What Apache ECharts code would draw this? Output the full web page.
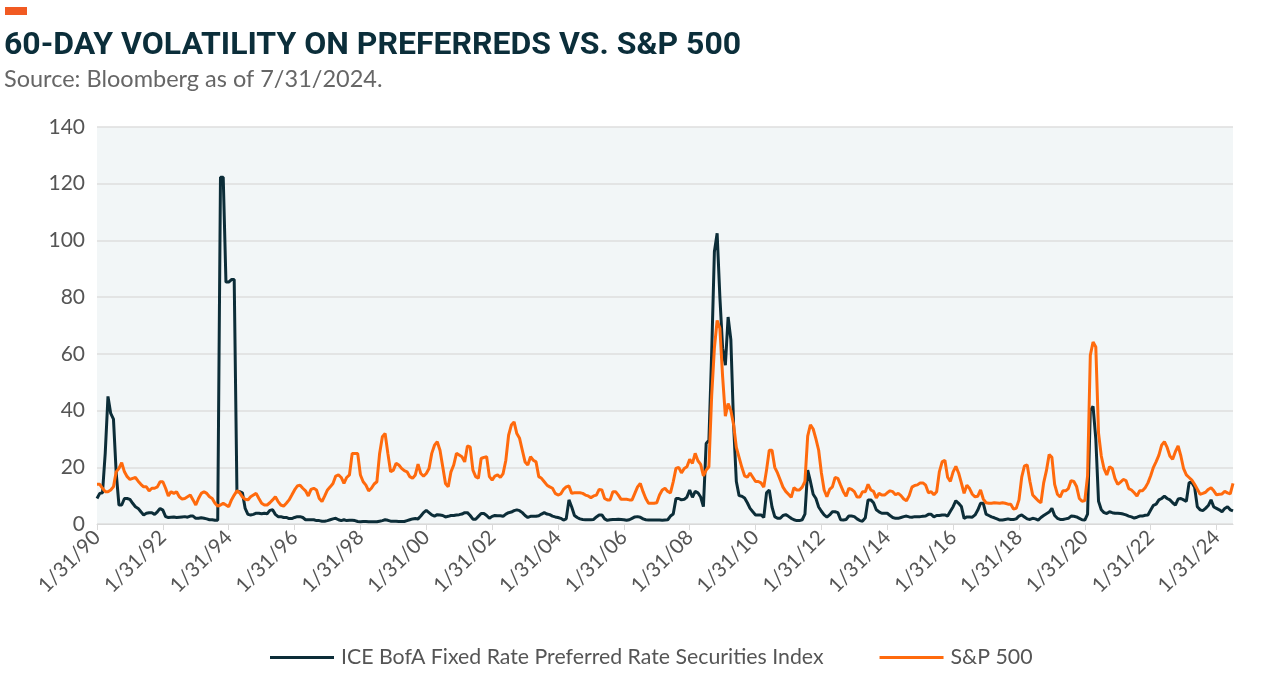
<!DOCTYPE html>
<html>
<head>
<meta charset="utf-8">
<script src="https://cdn.jsdelivr.net/npm/echarts@6/dist/echarts.min.js"></script>
<style>
html,body{margin:0;padding:0;background:#fff;}
#chart{width:1280px;height:687px;}
</style>
</head>
<body>
<div id="chart"></div>
<script>
// ICE BofA Fixed Rate Preferred Securities Index, 60-day volatility (monthly, Jan 1990 - Jul 2024)
const preferred = [
  9, 10.8, 11, 25, 45, 39, 37, 18, 6.7, 6.7, 9, 9,
  8.7, 7.3, 6.1, 5.5, 4.3, 3.2, 3.8, 4.0, 4.0, 3.4, 4.3, 5.5,
  4.9, 2.6, 2.3, 2.4, 2.5, 2.3, 2.4, 2.5, 2.6, 2.4, 2.8, 2.8,
  2.0, 2.0, 2.2, 2.0, 1.8, 1.5, 1.5, 1.3, 1.3, 122.3, 122.3, 85.3,
  85.3, 86.2, 86.2, 11.4, 11.4, 11, 5.5, 3.4, 3.2, 3.4, 3.8, 3.8,
  3.6, 3.8, 3.6, 4.8, 5.0, 3.4, 2.6, 2.6, 2.3, 2.3, 1.9, 1.9,
  2.3, 2.6, 2.6, 2.3, 1.5, 1.5, 1.5, 1.5, 1.2, 1.2, 1.0, 1.0,
  1.2, 1.5, 1.8, 2.0, 1.5, 1.2, 1.5, 1.2, 1.3, 1.3, 1.2, 0.9,
  0.8, 0.9, 0.9, 0.8, 0.8, 0.8, 0.8, 1.0, 1.2, 1.5, 1.3, 1.0,
  1.0, 1.0, 0.9, 0.9, 0.9, 1.2, 1.5, 1.8, 1.9, 1.8, 2.8, 4.0,
  4.8, 4.0, 3.2, 2.8, 3.3, 3.2, 3.0, 2.5, 2.7, 3.0, 3.0, 3.2,
  3.3, 3.5, 4.0, 4.0, 3.0, 1.7, 1.7, 2.7, 3.7, 3.7, 3.0, 2.0,
  2.7, 3.0, 2.9, 2.9, 2.7, 3.5, 4.0, 4.2, 4.7, 5.0, 4.7, 4.0,
  3.0, 2.3, 2.7, 2.7, 2.7, 2.9, 3.5, 4.0, 3.5, 3.3, 2.8, 2.5,
  2.3, 2.0, 1.4, 1.8, 8.5, 6, 3.0, 2.3, 1.8, 1.6, 1.5, 1.5,
  1.5, 1.6, 2.5, 3.2, 3.2, 1.8, 1.3, 1.5, 1.6, 1.6, 1.7, 1.6,
  1.5, 1.3, 1.5, 2.0, 2.5, 2.6, 2.4, 1.8, 1.5, 1.4, 1.4, 1.4,
  1.4, 1.4, 1.3, 1.4, 1.5, 2.8, 3.5, 9.0, 9.0, 8.5, 8.7, 9.5,
  12, 9.4, 11.5, 11, 9.5, 6.1, 28.4, 29.5, 60, 96, 102.5, 80,
  62, 56, 73, 65, 35, 15, 10, 9.8, 9.2, 7.5, 5.5, 4.3,
  3.2, 3.2, 3.2, 2.3, 11, 12, 6, 2.6, 2.0, 2.0, 3.0, 3.3,
  2.7, 2.0, 1.5, 1.2, 1.2, 1.5, 3.5, 19, 15, 10.5, 9, 6,
  4.5, 3.2, 2.4, 3.2, 4.3, 4.3, 4.0, 1.5, 1.4, 1.6, 2.8, 2.8,
  2.6, 1.8, 1.2, 1.0, 2.2, 8.5, 8.5, 7.5, 5.0, 4.3, 3.8, 3.8,
  3.8, 3.0, 2.3, 2.0, 2.0, 2.3, 2.6, 2.8, 2.5, 2.4, 2.6, 2.6,
  2.6, 2.7, 2.8, 3.4, 3.4, 2.5, 3.0, 3.0, 3.2, 3.2, 2.8, 4.5,
  6.1, 8.2, 7.3, 6.2, 2.0, 2.5, 2.5, 2.4, 3.2, 4.9, 7.3, 7.3,
  3.5, 3.0, 2.5, 2.2, 1.8, 1.4, 1.4, 1.6, 1.8, 1.6, 1.6, 1.8,
  2.8, 3.2, 2.5, 1.8, 1.6, 2.0, 1.8, 1.4, 2.3, 3.0, 3.6, 4.2,
  5.5, 3.0, 2.0, 1.6, 1.6, 1.8, 2.0, 2.8, 2.7, 2.5, 2.0, 1.5,
  1.4, 3.5, 40, 41.5, 30, 8, 5, 4, 3.7, 4.3, 4.0, 3.8,
  3.8, 3.7, 3.5, 3.2, 2.8, 2.5, 2.1, 2.4, 2.8, 2.8, 3.1, 3.2,
  4.9, 6.6, 7.0, 8.5, 9.0, 9.8, 9.0, 8.5, 7.5, 6.7, 8.8, 9.0,
  8.5, 8.0, 14.6, 14.6, 13, 6.1, 5.0, 4.7, 5.5, 6.5, 8.5, 6.0,
  5.5, 5.0, 4.3, 5.5, 6.1, 5.0, 4.6
];

// S&P 500, 60-day volatility (monthly, Jan 1990 - Jul 2024)
const sp500 = [
  14, 14, 12.6, 11.4, 11.4, 12, 13.1, 18.4, 19.6, 21.6, 18.4, 16.7,
  15.7, 16.1, 16.4, 15.1, 14, 13.1, 13.1, 11.7, 12.6, 12.6, 13.1, 14.9,
  14.9, 12.6, 9.9, 11.4, 10.8, 11.4, 9.6, 8.8, 9, 9.6, 10.2, 8.5,
  6.7, 9, 10.8, 11.4, 10.8, 9.6, 9, 7.3, 6.3, 6.7, 7.3, 6.7,
  6.1, 8.5, 10.2, 11.7, 11, 9.6, 8.7, 8.5, 9.6, 10.2, 10.8, 9,
  7.3, 6.7, 6.7, 7.5, 8.5, 9.6, 7.9, 6.7, 6.3, 7.3, 8.5, 10.2,
  12, 13.4, 13.7, 12.6, 11.7, 9.9, 12.2, 12.6, 12, 9, 7.9, 9.9,
  12, 13.1, 14.3, 16.9, 17.3, 16.4, 14.3, 16.4, 17.3, 24.9, 24.9, 24.9,
  17.3, 14.9, 13.7, 11.7, 12.6, 14.1, 14.9, 24.9, 30.8, 31.9, 24.9, 18.4,
  19, 21.4, 20.8, 19.6, 18.8, 18.4, 16.7, 16.1, 17.3, 21.1, 17.8, 16.9,
  17.8, 19.6, 24.9, 27.8, 29, 26, 20.2, 14.3, 13.1, 18.4, 20.8, 24.9,
  24.3, 23.7, 21.9, 27.5, 27.2, 19, 16.7, 16.1, 23.1, 23.5, 23.7, 16.7,
  15.5, 16.9, 17.3, 16.4, 17.8, 22.5, 31.3, 34.9, 36.0, 31.9, 30.2, 26,
  21.9, 20.8, 23.7, 22.5, 21.9, 16.7, 16.1, 14.9, 13.7, 13.1, 12.6, 10.8,
  10.2, 10.6, 12.2, 13.1, 13.4, 10.8, 11, 11, 11, 10.8, 10.2, 9.9,
  9.3, 9.9, 10.2, 12.2, 12, 9, 8.5, 8.5, 11.4, 11.4, 10.2, 8.7,
  8.7, 8.7, 8.5, 8.5, 10.8, 13.1, 14.3, 11.4, 9, 7.3, 7.3, 7.3,
  7.5, 10.2, 12, 12.6, 11.5, 11, 14.9, 19.6, 20, 18, 19.6, 20.2,
  22.8, 21.4, 24.9, 22.3, 21, 17, 19, 20.2, 45, 62, 71.8, 69,
  52, 38, 42.5, 40, 35, 27, 23.5, 20, 17, 16.5, 18, 16.5,
  15, 15, 14.5, 13, 19, 26, 26, 20, 18, 15.5, 13, 11.5,
  10.5, 9.4, 12.8, 12, 12, 13, 15, 31, 35, 33.5, 30, 26,
  18, 12, 9.6, 12.2, 13.1, 16.4, 16.1, 13.7, 11.4, 9.8, 12.6, 12.2,
  11.4, 9.5, 9.5, 11.4, 11.4, 14, 12, 11.5, 9.2, 10.8, 10.2, 10.2,
  11, 11.7, 11.4, 10.3, 10.8, 10, 8.8, 8.2, 10, 13, 13.6, 13.8,
  14.5, 14.5, 13.7, 11, 11.4, 10.3, 11.4, 18.5, 21.9, 22.5, 16.5, 15,
  18.4, 20.3, 18, 14.5, 10.8, 13.7, 12.5, 10.5, 9.6, 9.8, 12, 8.8,
  7.5, 7.3, 7.3, 7.5, 7.4, 7.3, 7.5, 7.3, 7.0, 7.0, 5.3, 5.5,
  8.5, 16.5, 20.5, 20.8, 15, 10.2, 9.2, 8.2, 7.5, 14.5, 18.8, 24.5,
  23.5, 14, 10.5, 9.5, 11.7, 11.7, 12.5, 15.3, 15, 13.2, 9, 8,
  8.3, 17, 59.5, 64.2, 62.4, 32, 24, 19.5, 17.3, 20.2, 19.6, 16,
  14, 14.8, 15.7, 15.3, 12.5, 12, 11, 9.9, 11.7, 11.7, 12.8, 14.5,
  17, 20, 22, 24.3, 27.8, 29, 27, 24, 22.8, 25.5, 27.5, 24,
  19.5, 17.3, 16.4, 15.5, 14, 12.3, 10.5, 10.8, 11.2, 12.2, 12.8, 11.7,
  10.3, 10.5, 10.6, 11.5, 11.0, 10.6, 14.3
];

const seriesNames = ['ICE BofA Fixed Rate Preferred Rate Securities Index', 'S&P 500'];
const yTicks = [0, 20, 40, 60, 80, 100, 120, 140];

// Month-end category labels, 1/31/90 ... 7/31/24
const categories = [];
for (let y = 1990; y <= 2024; y++) {
  for (let m = 1; m <= 12; m++) {
    if (categories.length >= preferred.length) break;
    const last = new Date(Date.UTC(y, m, 0)).getUTCDate();
    categories.push(m + '/' + last + '/' + String(y).slice(2));
  }
}

const chart = echarts.init(document.getElementById('chart'));
chart.setOption({
  animation: false,
  backgroundColor: '#ffffff',
  title: [
    { text: '60-DAY VOLATILITY ON PREFERREDS VS. S&P 500', left: 4, top: 30, padding: 0,
      textStyle: { fontFamily: 'Roboto', fontWeight: 'bold', fontSize: 32, color: '#0b2e3a' } },
    { text: 'Source: Bloomberg as of 7/31/2024.', left: 4, top: 67, padding: 0,
      textStyle: { fontFamily: 'Lato', fontWeight: 'normal', fontSize: 23.5, color: '#666666' } }
  ],
  graphic: [
    { type: 'rect', left: 5, top: 7, shape: { width: 22, height: 8 }, style: { fill: '#f15a22' } }
  ],
  grid: { left: 97, right: 47, top: 127, bottom: 163, show: true, backgroundColor: '#f2f6f7', borderWidth: 0 },
  legend: {
    left: 265, bottom: 14, icon: 'rect', itemWidth: 64, itemHeight: 3, itemGap: 56,
    textStyle: { fontFamily: 'Lato', fontSize: 21.3, color: '#555555', padding: [0, 0, 0, 2] },
    data: seriesNames
  },
  xAxis: {
    type: 'category', data: categories, boundaryGap: false,
    axisLine: { lineStyle: { color: '#d9d9d9' } },
    axisTick: { interval: 23, length: 6, lineStyle: { color: '#d9d9d9' } },
    axisLabel: { interval: 23, rotate: 45, fontFamily: 'Lato', fontSize: 20.5, color: '#555555', margin: 10 }
  },
  yAxis: {
    type: 'value', min: yTicks[0], max: yTicks[yTicks.length - 1], interval: 20,
    axisLine: { show: false }, axisTick: { show: false },
    axisLabel: { fontFamily: 'Lato', fontSize: 21, color: '#555555', margin: 12 },
    splitLine: { lineStyle: { color: '#dedede', width: 1.5 } }
  },
  series: [
    { name: seriesNames[0], type: 'line', data: preferred, showSymbol: false,
      lineStyle: { color: '#0c2d38', width: 3 }, itemStyle: { color: '#0c2d38' } },
    { name: seriesNames[1], type: 'line', data: sp500, showSymbol: false,
      lineStyle: { color: '#ff6a0d', width: 3 }, itemStyle: { color: '#ff6a0d' } }
  ]
});
</script>
</body>
</html>
